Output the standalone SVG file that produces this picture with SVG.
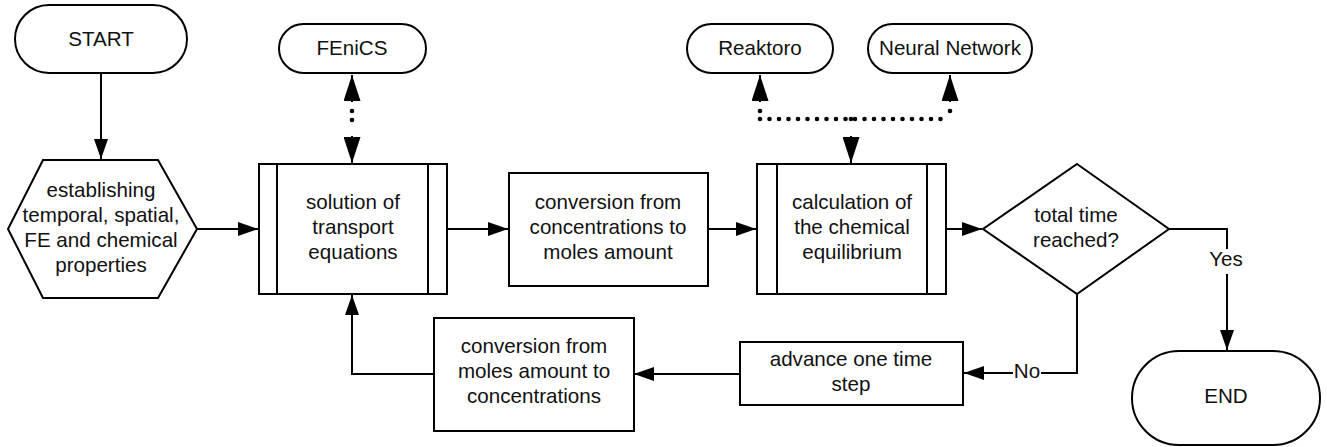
<svg xmlns="http://www.w3.org/2000/svg" width="1327" height="447" viewBox="0 0 1327 447">
  <style>
    .shape { fill: #ffffff; stroke: #000000; stroke-width: 2; }
    .inner { fill: none; stroke: #000000; stroke-width: 2; }
    .label { font-family: "Liberation Sans", Arial, sans-serif; font-size: 20.6px; fill: #111111; text-anchor: middle; }
    .flow { fill: none; stroke: #000000; stroke-width: 2; marker-end: url(#arrow); }
    .stub { fill: none; stroke: #000000; stroke-width: 2; marker-end: url(#arrow-big); }
    .dotted { fill: none; stroke: #000000; stroke-width: 4.6; stroke-linecap: round; }
    .d8 { stroke-dasharray: 0 8; }
    .d9 { stroke-dasharray: 0 9; }
    .d95 { stroke-dasharray: 0 9.5; }
  </style>
  <defs>
    <!-- solid flow arrowhead -->
    <marker id="arrow" viewBox="0 0 20 14" refX="20" refY="7" markerWidth="20" markerHeight="14" markerUnits="userSpaceOnUse" orient="auto">
      <path d="M0,0 L20,7 L0,14 z" fill="#000000"/>
    </marker>
    <!-- heavier arrowhead used on the dotted tool links -->
    <marker id="arrow-big" viewBox="0 0 26 17" refX="26" refY="8.5" markerWidth="26" markerHeight="17" markerUnits="userSpaceOnUse" orient="auto">
      <path d="M0,0 L26,8.5 L0,17 z" fill="#000000"/>
    </marker>
  </defs>

  <rect width="1327" height="447" fill="#ffffff"/>

  <g id="connectors">
    <!-- main flow -->
    <path class="flow" d="M101,73 V159"/>
    <path class="flow" d="M197,229 H258"/>
    <path class="flow" d="M447,229 H508"/>
    <path class="flow" d="M708,229 H756"/>
    <path class="flow" d="M946,229 H982"/>
    <path class="flow" d="M1169,229 H1227 V350"/>
    <path class="flow" d="M1077,294 V373 H964"/>
    <path class="flow" d="M740,374 H634"/>
    <path class="flow" d="M434,374 H352 V295"/>

    <!-- FEniCS link -->
    <path class="dotted d9" d="M352,111 V129"/>
    <line class="stub" x1="352" y1="102" x2="352" y2="75"/>
    <line class="stub" x1="352" y1="136" x2="352" y2="163"/>

    <!-- Reaktoro / Neural Network links -->
    <path class="dotted d8" d="M760,111 V119"/>
    <path class="dotted d95" d="M760,119 H950"/>
    <path class="dotted d8" d="M950,111 V119"/>
    <path class="dotted d8" d="M851,119 V127"/>
    <line class="stub" x1="760" y1="102" x2="760" y2="75"/>
    <line class="stub" x1="950" y1="102" x2="950" y2="75"/>
    <line class="stub" x1="851" y1="136" x2="851" y2="163"/>

    <!-- branch labels -->
    <rect x="1208" y="249" width="38" height="25" fill="#ffffff"/>
    <text class="label" x="1226" y="266">Yes</text>
    <rect x="1013" y="362" width="28" height="20" fill="#ffffff"/>
    <text class="label" x="1027" y="378">No</text>
  </g>

  <g id="start">
    <rect class="shape" x="15" y="5" width="172" height="68" rx="34" ry="34"/>
    <text class="label" x="101" y="46">START</text>
  </g>

  <g id="setup">
    <polygon class="shape" points="43,160 158,160 197,229 158,298 43,298 8,229"/>
    <text class="label" x="101" y="197">establishing</text>
    <text class="label" x="101" y="222">temporal, spatial,</text>
    <text class="label" x="101" y="247">FE and chemical</text>
    <text class="label" x="101" y="272">properties</text>
  </g>

  <g id="fenics">
    <rect class="shape" x="279" y="24" width="147" height="49" rx="24.5" ry="24.5"/>
    <text class="label" x="352" y="55">FEniCS</text>
  </g>

  <g id="transport">
    <rect class="shape" x="259" y="164" width="188" height="130"/>
    <line class="inner" x1="277" y1="164" x2="277" y2="294"/>
    <line class="inner" x1="428" y1="164" x2="428" y2="294"/>
    <text class="label" x="353" y="209">solution of</text>
    <text class="label" x="353" y="234">transport</text>
    <text class="label" x="353" y="259">equations</text>
  </g>

  <g id="to-moles">
    <rect class="shape" x="509" y="173" width="199" height="113"/>
    <text class="label" x="608" y="209">conversion from</text>
    <text class="label" x="608" y="234">concentrations to</text>
    <text class="label" x="608" y="259">moles amount</text>
  </g>

  <g id="reaktoro">
    <rect class="shape" x="687" y="24" width="146" height="49" rx="24.5" ry="24.5"/>
    <text class="label" x="760" y="55">Reaktoro</text>
  </g>

  <g id="neural-network">
    <rect class="shape" x="868" y="24" width="164" height="49" rx="24.5" ry="24.5"/>
    <text class="label" x="950" y="55">Neural Network</text>
  </g>

  <g id="equilibrium">
    <rect class="shape" x="757" y="164" width="189" height="130"/>
    <line class="inner" x1="777" y1="164" x2="777" y2="294"/>
    <line class="inner" x1="927" y1="164" x2="927" y2="294"/>
    <text class="label" x="852" y="209">calculation of</text>
    <text class="label" x="852" y="234">the chemical</text>
    <text class="label" x="852" y="259">equilibrium</text>
  </g>

  <g id="time-check">
    <polygon class="shape" points="1077,164 1169,229 1077,294 983,229"/>
    <text class="label" x="1076" y="222">total time</text>
    <text class="label" x="1076" y="247">reached?</text>
  </g>

  <g id="end">
    <rect class="shape" x="1132" y="351" width="188" height="94" rx="47" ry="47"/>
    <text class="label" x="1226" y="403">END</text>
  </g>

  <g id="advance">
    <rect class="shape" x="740" y="342" width="223" height="63"/>
    <text class="label" x="851" y="366">advance one time</text>
    <text class="label" x="851" y="391">step</text>
  </g>

  <g id="to-concentrations">
    <rect class="shape" x="434" y="318" width="200" height="113"/>
    <text class="label" x="534" y="353">conversion from</text>
    <text class="label" x="534" y="378">moles amount to</text>
    <text class="label" x="534" y="403">concentrations</text>
  </g>
</svg>
